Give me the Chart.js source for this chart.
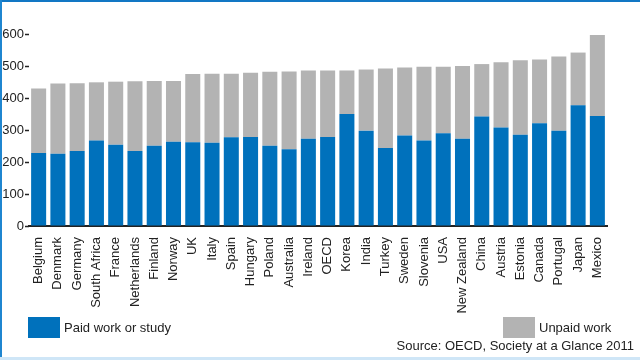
<!DOCTYPE html>
<html>
<head>
<meta charset="utf-8">
<script src="https://cdn.jsdelivr.net/npm/chart.js@4.4.0/dist/chart.umd.min.js"></script>
<style>
    html, body { margin: 0; padding: 0; background: #fff; }
    #wrap { position: relative; width: 640px; height: 360px; overflow: hidden; font-family: "Liberation Sans", Arial, sans-serif; color: #222; }
    #chart { position: absolute; left: 0; top: 0; }
    .edge-top { position: absolute; left: 0; top: 0; width: 640px; height: 2px; background: #1277c4; }
    .edge-left { position: absolute; left: 0; top: 0; width: 2px; height: 357px; background: #1f86d0; }
    .edge-bottom { position: absolute; left: 0; top: 357px; width: 640px; height: 3px; background: #cfe6f7; }
    .legend-item { position: absolute; top: 317px; height: 21px; display: flex; align-items: center; font-size: 13px; }
    .legend-item .box { width: 32px; height: 21px; margin-right: 4px; }
    .source { position: absolute; right: 6px; top: 338px; font-size: 13px; }
</style>
</head>
<body>
<div id="wrap">
    <canvas id="chart" width="640" height="360"></canvas>
    <div class="edge-top"></div>
    <div class="edge-left"></div>
    <div class="edge-bottom"></div>
    <div id="legend"></div>
    <div class="source">Source: OECD, Society at a Glance 2011</div>
</div>
<script>
// Minutes per day
const countries = ['Belgium', 'Denmark', 'Germany', 'South Africa', 'France', 'Netherlands', 'Finland', 'Norway', 'UK', 'Italy',
    'Spain', 'Hungary', 'Poland', 'Australia', 'Ireland', 'OECD', 'Korea', 'India', 'Turkey', 'Sweden',
    'Slovenia', 'USA', 'New Zealand', 'China', 'Austria', 'Estonia', 'Canada', 'Portugal', 'Japan', 'Mexico'];
const paidWork = [228, 226, 234, 267, 254, 234, 251, 263, 262, 260,
    277, 278, 251, 240, 273, 278, 350, 298, 244, 283,
    267, 290, 273, 342, 308, 285, 321, 298, 377, 344];
const unpaidWork = [202, 219, 212, 182, 197, 218, 202, 190, 213, 216,
    199, 201, 231, 243, 213, 208, 136, 191, 248, 212,
    231, 208, 227, 164, 204, 233, 199, 232, 165, 253];
const yTicks = [0, 100, 200, 300, 400, 500, 600];

const blue = '#0071bc';
const grey = '#b3b3b3';

const chart = new Chart(document.getElementById('chart'), {
    type: 'bar',
    data: {
        labels: countries,
        datasets: [
            { label: 'Paid work or study', data: paidWork, backgroundColor: blue },
            { label: 'Unpaid work', data: unpaidWork, backgroundColor: grey }
        ]
    },
    options: {
        responsive: false,
        animation: false,
        layout: { padding: { left: 0, right: 33, top: 34, bottom: 0 } },
        datasets: { bar: { categoryPercentage: 1, barPercentage: 0.78 } },
        plugins: { legend: { display: false }, tooltip: { enabled: false } },
        scales: {
            x: {
                stacked: true,
                grid: { display: false },
                border: { display: true, color: '#222', width: 2 },
                ticks: {
                    autoSkip: false,
                    maxRotation: 90,
                    minRotation: 90,
                    padding: 3,
                    color: '#222',
                    font: { family: 'Liberation Sans', size: 13 }
                },
                afterFit: (scale) => { scale.height = 134; }
            },
            y: {
                stacked: true,
                min: 0,
                max: 600,
                z: 1,
                afterBuildTicks: (scale) => { scale.ticks = yTicks.map(v => ({ value: v })); },
                grid: {
                    color: (ctx) => ctx.tick && ctx.tick.value === 0 ? 'rgba(0,0,0,0)' : 'rgba(255,255,255,0.55)',
                    lineWidth: 1,
                    drawTicks: true,
                    tickLength: 4,
                    tickColor: '#222',
                    tickWidth: 1.5
                },
                border: { display: false },
                ticks: {
                    padding: 1,
                    color: '#222',
                    font: { family: 'Liberation Sans', size: 13 }
                },
                afterFit: (scale) => { scale.width = 29; }
            }
        }
    }
});

// HTML legend, placed like the original
const legend = document.getElementById('legend');
const legendLeft = [28, 503];
chart.data.datasets.forEach((ds, i) => {
    const item = document.createElement('div');
    item.className = 'legend-item';
    item.style.left = legendLeft[i] + 'px';
    item.innerHTML = `<span class="box" style="background:${ds.backgroundColor}"></span><span>${ds.label}</span>`;
    legend.appendChild(item);
});
</script>
</body>
</html>
